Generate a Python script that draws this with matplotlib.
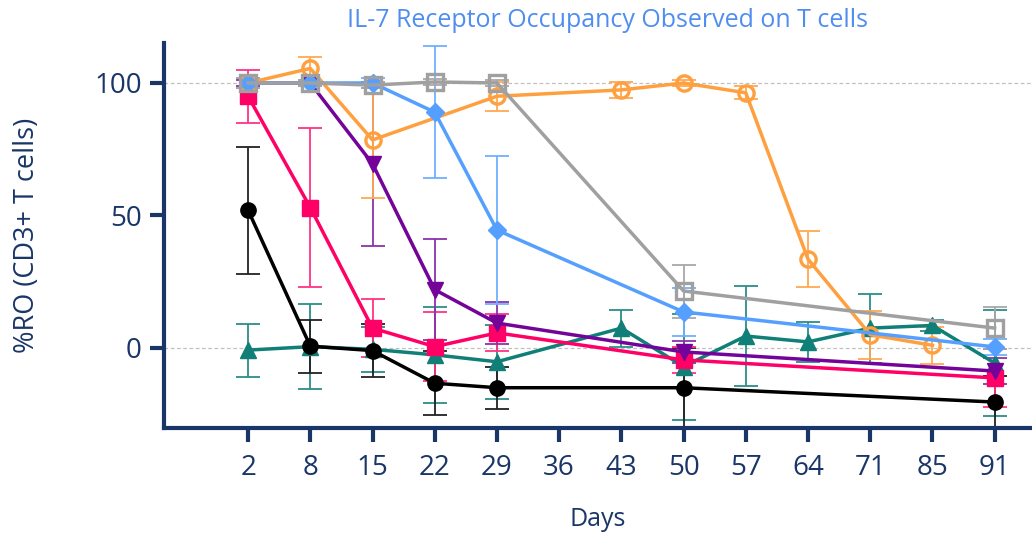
import numpy as np
import matplotlib
matplotlib.use("Agg")
import matplotlib.pyplot as plt

nan = np.nan
days = ['2', '8', '15', '22', '29', '36', '43', '50', '57', '64', '71', '85', '91']

teal = [-0.8, 0.5, -0.5, -2.6, -5.2, nan, 7.5, -7, 4.5, 2.3, 7.5, 8.5, -5.7]
teal_err = [10, 16, 8.5, 18, 14, nan, 7, 20, 19, 7.5, 13, 2, 20]

black = [52, 0.7, -1, -13.3, -15, nan, nan, -15, nan, nan, nan, nan, -20.4]
black_err = [24, 10, 10, 12, 8, nan, nan, 15, nan, nan, nan, nan, 10]

pink = [95, 53, 7.5, 0.5, 5.7, nan, nan, -4.5, nan, nan, nan, nan, -11.3]
pink_err = [10, 30, 11, 13, 7, nan, nan, 5, nan, nan, nan, nan, 11]

purple = [100, 100, 69.5, 22, 9.4, nan, nan, -1.5, nan, nan, nan, nan, -8.7]
purple_err = [1, 1, 31, 19, 8, nan, nan, 4, nan, nan, nan, nan, 5]

orange = [100, 105.5, 78.5, nan, 95, nan, 97.4, 100, 96.3, 33.5, 5, 1, nan]
orange_err = [2, 4.5, 22, nan, 5.5, nan, 3, 1, 2.5, 10.5, 9, 7, nan]

blue = [100, 100, 100, 89, 44.5, nan, nan, 13.6, nan, nan, nan, nan, 0.4]
blue_err = [2, 1, 2, 25, 28, nan, nan, 9, nan, nan, nan, nan, 3]

gray = [100, 100, 99.2, 100.4, 100, nan, nan, 21.5, nan, nan, nan, nan, 7.5]
gray_err = [2, 1, 1, 1, 1, nan, nan, 10, nan, nan, nan, nan, 8]

series = [
    (teal, teal_err, '#0f7f78', '#2a8f89', '^', True),
    (black, black_err, '#000000', '#222222', 'o', True),
    (pink, pink_err, '#ff0066', '#ff3385', 's', True),
    (purple, purple_err, '#74039a', '#8a33aa', 'v', True),
    (orange, orange_err, '#ffa040', '#ffa850', 'o', False),
    (blue, blue_err, '#55a0ff', '#70b0ff', 'D', True),
    (gray, gray_err, '#a0a0a0', '#a8a8a8', 's', False),
]

navy = '#1a3668'
font = 'Open Sans'
plt.rcParams['font.family'] = [font, 'DejaVu Sans']

fig = plt.figure(figsize=(10.32, 5.34), dpi=100)
ax = fig.add_axes([0.159, 0.1985, 0.841, 0.721])

x_all = np.arange(len(days))
for vals, errs, col, ecol, mk, filled in series:
    v = np.array(vals, dtype=float)
    e = np.array(errs, dtype=float)
    m = ~np.isnan(v)
    xs = x_all[m]
    ax.errorbar(xs, v[m], yerr=e[m], fmt='none', ecolor=ecol, elinewidth=1.3,
                capsize=8.5, capthick=1.3, zorder=2)
    ms = {'o': 11, 's': 11, 'D': 9.5, '^': 11, 'v': 11}[mk]
    ax.plot(xs, v[m], color=col, lw=2.5, marker=mk, markersize=ms,
            markerfacecolor=col if filled else 'none',
            markeredgecolor=col, markeredgewidth=2.4 if not filled else 1,
            zorder=3)

for yv in (0, 100):
    ax.axhline(yv, color='#c0c0c0', lw=0.9, ls=(0, (3, 2)), zorder=1)

ax.set_xlim(-1.35, 12.6)
ax.set_ylim(-30.2, 115.1)
ax.set_xticks(x_all)
ax.set_xticklabels(days)
ax.set_yticks([0, 50, 100])
for s in ('top', 'right'):
    ax.spines[s].set_visible(False)
for s in ('left', 'bottom'):
    ax.spines[s].set_color(navy)
    ax.spines[s].set_linewidth(3)
ax.tick_params(axis='both', colors=navy, labelsize=20, width=3, length=10)
ax.tick_params(axis='x', pad=9)
ax.tick_params(axis='y', pad=6)

ax.set_xlabel('Days', fontsize=18, color=navy, labelpad=18)
ax.set_ylabel('%RO (CD3+ T cells)', fontsize=19.5, color=navy, labelpad=38)
fig.text(0.5885, 0.962, 'IL-7 Receptor Occupancy Observed on T cells',
         ha='center', va='center', fontsize=18, color='#4f8ef0')

fig.savefig('out.png', dpi=100)
